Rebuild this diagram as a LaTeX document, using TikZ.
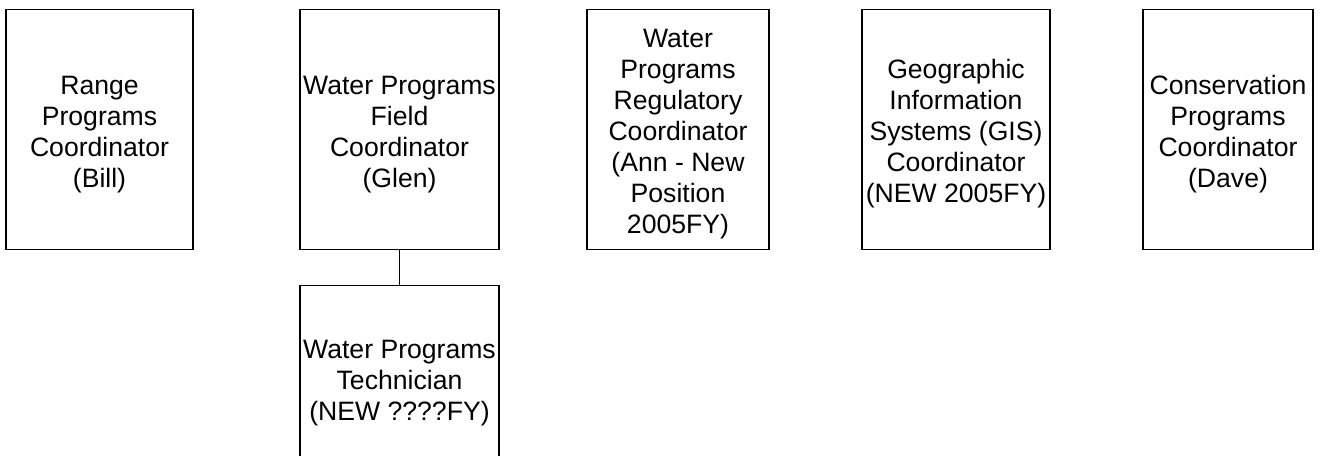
\documentclass[tikz,border=0pt]{standalone}
\usepackage{fontspec}
\setmainfont{Liberation Sans}
% text sits a little low in the boxes
\newcommand{\postlines}[1]{\raisebox{-5pt}[\height][\depth]{%
  \begin{tabular}{@{}c@{}}#1\end{tabular}}}
\tikzset{
  postbox/.style={draw=black, line width=1.3pt, anchor=north, inner sep=0pt,
    minimum height=240pt,
    font=\fontsize{26.6}{31}\selectfont}
}
\begin{document}
\begin{tikzpicture}[x=1pt, y=-1pt]
    \useasboundingbox (0,0) rectangle (1321,455);
    \node[postbox, minimum width=187pt] (range) at (99.5,9)
        {\postlines{Range\\Programs\\Coordinator\\(Bill)}};
    \node[postbox, minimum width=199pt] (field) at (399.5,9)
        {\postlines{Water Programs\\Field\\Coordinator\\(Glen)}};
    \node[postbox, minimum width=182pt] (reg) at (678,9)
        {\postlines{Water\\Programs\\Regulatory\\Coordinator\\(Ann - New\\Position\\2005FY)}};
    \node[postbox, minimum width=188pt] (gis) at (956,9)
        {\postlines{Geographic\\Information\\Systems (GIS)\\Coordinator\\(NEW 2005FY)}};
    \node[postbox, minimum width=170pt] (cons) at (1228,9)
        {\postlines{Conservation\\Programs\\Coordinator\\(Dave)}};
    \node[postbox, minimum width=199pt, minimum height=185pt] (tech) at (399.5,285)
        {\postlines{Water Programs\\Technician\\(NEW ????FY)}};
    \draw[line width=1.3pt] (field.south) -- (tech.north);
\end{tikzpicture}
\end{document}
